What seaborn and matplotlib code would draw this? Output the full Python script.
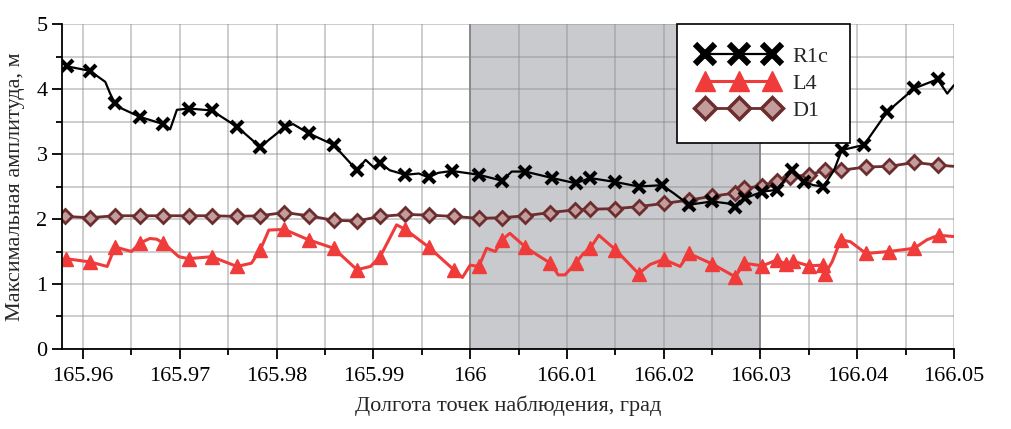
import matplotlib
matplotlib.use('Agg')
import matplotlib.pyplot as plt
import seaborn as sns
from matplotlib.lines import Line2D
from matplotlib.ticker import MultipleLocator, FuncFormatter

# Data (longitude, max amplitude in m)
r1c_x = [165.9583, 165.9607, 165.9623, 165.9628, 165.9633, 165.9640, 165.9659, 165.9683, 165.9690, 165.9697,
         165.9709, 165.9733, 165.9759, 165.9783, 165.9809, 165.9817, 165.9833, 165.9859, 165.9883, 165.9892,
         165.9900, 165.9907, 165.9917, 165.9933, 165.9947, 165.9957, 165.9967, 165.9981, 166.0000, 166.0009,
         166.0033, 166.0043, 166.0057, 166.0085, 166.0109, 166.0124, 166.0150, 166.0174, 166.0198, 166.0210,
         166.0226, 166.0250, 166.0266, 166.0274, 166.0284, 166.0302, 166.0317, 166.0333, 166.0345, 166.0355,
         166.0365, 166.0376, 166.0384, 166.0407, 166.0431, 166.0459, 166.0483, 166.0493, 166.0500]
r1c_y = [4.35, 4.28, 4.11, 3.93, 3.78, 3.70, 3.57, 3.46, 3.38, 3.68,
         3.70, 3.67, 3.42, 3.11, 3.42, 3.46, 3.32, 3.14, 2.75, 2.91,
         2.80, 2.86, 2.75, 2.68, 2.70, 2.64, 2.71, 2.74, 2.70, 2.68,
         2.59, 2.73, 2.73, 2.63, 2.55, 2.63, 2.57, 2.50, 2.52, 2.40,
         2.22, 2.27, 2.24, 2.19, 2.32, 2.42, 2.45, 2.75, 2.57, 2.52,
         2.50, 2.75, 3.06, 3.14, 3.65, 4.01, 4.15, 3.93, 4.06]
r1c_marks = [0, 1, 4, 6, 7, 10, 11, 12, 13, 14, 16, 17, 18, 21, 23, 25, 27, 29, 30, 32, 33, 34, 35,
             36, 37, 38, 40, 41, 43, 44, 45, 46, 47, 48, 50, 52, 53, 54, 55, 56]

l4_x = [165.9582, 165.9607, 165.9625, 165.9633, 165.9650, 165.9659, 165.9669, 165.9676, 165.9683, 165.9699,
        165.9709, 165.9733, 165.9759, 165.9774, 165.9783, 165.9792, 165.9808, 165.9833, 165.9859, 165.9883,
        165.9897, 165.9907, 165.9924, 165.9933, 165.9957, 165.9983, 165.9992, 166.0000, 166.0009, 166.0017,
        166.0026, 166.0033, 166.0041, 166.0057, 166.0069, 166.0083, 166.0091, 166.0098, 166.0109, 166.0117,
        166.0124, 166.0133, 166.0150, 166.0174, 166.0186, 166.0200, 166.0217, 166.0226, 166.0250, 166.0274,
        166.0283, 166.0302, 166.0317, 166.0326, 166.0334, 166.0350, 166.0365, 166.0367, 166.0374, 166.0383,
        166.0393, 166.0409, 166.0433, 166.0459, 166.0472, 166.0484, 166.0500]
l4_y = [1.39, 1.34, 1.27, 1.57, 1.50, 1.63, 1.70, 1.69, 1.63, 1.42,
        1.39, 1.42, 1.27, 1.32, 1.52, 1.83, 1.84, 1.68, 1.55, 1.22,
        1.27, 1.42, 1.91, 1.84, 1.57, 1.22, 1.10, 1.29, 1.27, 1.55,
        1.50, 1.68, 1.78, 1.57, 1.45, 1.32, 1.14, 1.14, 1.32, 1.47,
        1.55, 1.75, 1.53, 1.16, 1.30, 1.38, 1.27, 1.47, 1.31, 1.11,
        1.32, 1.28, 1.37, 1.31, 1.35, 1.28, 1.29, 1.16, 1.34, 1.68,
        1.65, 1.47, 1.50, 1.55, 1.68, 1.75, 1.73]
l4_marks = [0, 1, 3, 5, 8, 10, 11, 12, 14, 16, 17, 18, 19, 21, 23, 24, 25, 28, 31, 33, 35, 38, 40,
            42, 43, 45, 47, 48, 49, 50, 51, 52, 53, 54, 55, 56, 57, 59, 61, 62, 63, 65]

d1_x = [165.9581, 165.9607, 165.9633, 165.9659, 165.9683, 165.9709, 165.9733, 165.9759, 165.9783, 165.9808,
        165.9833, 165.9859, 165.9883, 165.9907, 165.9933, 165.9957, 165.9983, 166.0009, 166.0033, 166.0057,
        166.0083, 166.0108, 166.0124, 166.0150, 166.0174, 166.0200, 166.0226, 166.0250, 166.0274, 166.0283,
        166.0302, 166.0317, 166.0331, 166.0350, 166.0367, 166.0383, 166.0409, 166.0433, 166.0459, 166.0483,
        166.0500]
d1_y = [2.04, 2.02, 2.05, 2.05, 2.05, 2.05, 2.05, 2.04, 2.05, 2.10,
        2.05, 1.98, 1.97, 2.04, 2.07, 2.06, 2.04, 2.01, 2.02, 2.05,
        2.10, 2.14, 2.15, 2.16, 2.19, 2.24, 2.29, 2.35, 2.40, 2.47,
        2.51, 2.59, 2.65, 2.68, 2.75, 2.75, 2.80, 2.81, 2.87, 2.83,
        2.81]
d1_marks = list(range(40))

shade_from, shade_to = 166.0, 166.03

sns.set_style('white')
plt.rcParams['font.family'] = ['Liberation Serif', 'DejaVu Serif']

BLACK = 'black'
RED = '#f03b3b'
BROWN = '#6b2d2d'
BROWN_FACE = '#c39c9c'

fig, ax = plt.subplots(figsize=(10.12, 4.29), dpi=100)
fig.subplots_adjust(left=0.0613, right=0.9427, bottom=0.1865, top=0.944)

# shaded band
ax.axvspan(shade_from, shade_to, color='#c9cace', zorder=0, lw=0)
for xv in (shade_from, shade_to):
    ax.axvline(xv, color='#7f7f7f', lw=1.3, zorder=0.5)

sns.lineplot(x=d1_x, y=d1_y, ax=ax, estimator=None, sort=False, color=BROWN, lw=2,
             marker='D', markersize=7, markevery=d1_marks, mfc=BROWN_FACE, mec=BROWN, mew=2, zorder=3)
sns.lineplot(x=l4_x, y=l4_y, ax=ax, estimator=None, sort=False, color=RED, lw=2.2,
             marker='^', markersize=9.5, markevery=l4_marks, mfc=RED, mec=RED, mew=1, zorder=3)
sns.lineplot(x=r1c_x, y=r1c_y, ax=ax, estimator=None, sort=False, color=BLACK, lw=1.6,
             marker='x', markersize=9, markevery=r1c_marks, mec=BLACK, mew=3, zorder=4)

ax.set_xlim(165.95783, 166.05)
ax.set_ylim(0, 5)
ax.xaxis.set_major_locator(MultipleLocator(0.01))
ax.xaxis.set_minor_locator(MultipleLocator(0.005))
ax.yaxis.set_major_locator(MultipleLocator(1))
ax.yaxis.set_minor_locator(MultipleLocator(0.5))
ax.xaxis.set_major_formatter(FuncFormatter(lambda v, p: '%g' % round(v, 4)))
ax.grid(True, which='both', color='#8c8c8c', alpha=0.5, lw=1.2)
ax.set_axisbelow(True)

for side in ('top', 'right'):
    ax.spines[side].set_visible(False)
for side in ('left', 'bottom'):
    ax.spines[side].set_color('black')
    ax.spines[side].set_linewidth(1.3)
    ax.spines[side].set_zorder(5)

ax.tick_params(which='major', direction='out', length=7, width=1.3, colors='black', labelsize=16, bottom=True, left=True)
ax.tick_params(which='minor', direction='out', length=4, width=1.3, colors='black', bottom=True, left=True)
ax.tick_params(axis='x', pad=6)

ax.set_xlabel('Долгота точек наблюдения, град', fontsize=16, labelpad=7)
ax.set_ylabel('Максимальная амплитуда, м', fontsize=16, labelpad=8)

handles = [
    Line2D([], [], color=BLACK, lw=1.6, marker='x', markersize=14, mew=4.5, mec=BLACK),
    Line2D([], [], color=RED, lw=2.2, marker='^', markersize=14, mfc=RED, mec=RED),
    Line2D([], [], color=BROWN, lw=2, marker='D', markersize=11, mfc=BROWN_FACE, mec=BROWN, mew=2.5),
]
leg = ax.legend(handles, ['R1c', 'L4', 'D1'], loc='upper left', bbox_to_anchor=(0.689, 1.0),
                borderaxespad=0, numpoints=3, handlelength=3.6, fontsize=16, fancybox=False,
                framealpha=1, edgecolor='black', borderpad=1.0, labelspacing=0.3, handletextpad=0.6)
leg.get_frame().set_linewidth(1.2)
leg.set_zorder(6)

fig.savefig('out.png', dpi=100)
